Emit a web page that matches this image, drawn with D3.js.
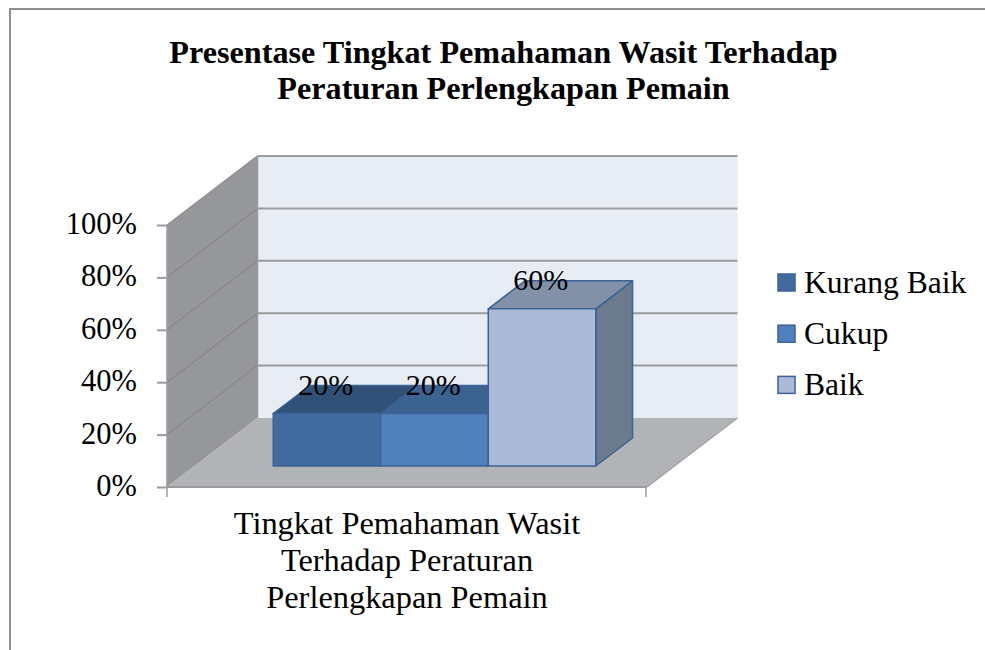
<!DOCTYPE html>
<html><head><meta charset="utf-8">
<script src="https://cdn.jsdelivr.net/npm/d3@7/dist/d3.min.js"></script>
<style>html,body{margin:0;padding:0;background:#fff}svg{display:block}text{font-family:"Liberation Serif",serif;fill:#000}</style>
</head><body><svg id="c" width="985" height="650"></svg>
<script>
const titleLines = ["Presentase Tingkat Pemahaman Wasit Terhadap", "Peraturan Perlengkapan Pemain"];
const categoryLines = ["Tingkat Pemahaman Wasit", "Terhadap Peraturan", "Perlengkapan Pemain"];
const seriesNames = ["Kurang Baik", "Cukup", "Baik"];
const seriesValues = [20, 20, 60];
const yTicks = [0, 20, 40, 60, 80, 100];

const faceColors = ["#416b9f", "#4f81bd", "#aabad7"];
const topColors = ["#325179", "#3c6290", "#8290a8"];
const sideColors = ["#2f4d72", "#395d8a", "#6c7a8d"];
const edge = "#3b6397", grid = "#9b9b9d";

const svg = d3.select("#c");
svg.append("path").attr("d", "M10 650V9H985").attr("fill", "none").attr("stroke", "#8f8f8f").attr("stroke-width", 2);

const x = d3.scaleLinear().domain([0, 1]).range([167, 647]);
const y = d3.scaleLinear().domain([0, 100]).range([487, 225]);
const depthX = d3.scaleLinear().domain([0, 1]).range([0, 90.5]);
const depthY = d3.scaleLinear().domain([0, 1]).range([0, -69]);
const band = d3.scaleBand().domain(seriesNames).range([167, 647]).paddingInner(0).paddingOuter(0.732);
const pt = (px, v, z) => [px + depthX(z), y(v) + depthY(z)];
const poly = pts => "M" + pts.map(p => p.join(",")).join("L") + "Z";
const L = x(0), R = x(1);

// walls and floor
svg.append("path").attr("d", poly([pt(L,0,0), pt(L,100,0), pt(L,100,1), pt(L,0,1)])).attr("fill", "#96979a");
svg.append("path").attr("d", poly([pt(L,0,1), pt(L,100,1), pt(R,100,1), pt(R,0,1)])).attr("fill", "#e8ecf5");
const gl = svg.append("g");
yTicks.filter(t => t > 0).forEach(t => {
  gl.append("path").attr("d", "M" + pt(L,t,0) + "L" + pt(L,t,1)).attr("stroke", t === 100 ? "#8f9092" : "#86878a").attr("stroke-width", 1.3).attr("fill", "none");
  gl.append("path").attr("d", "M" + pt(L,t,1) + "L" + pt(R,t,1)).attr("stroke", grid).attr("stroke-width", 2).attr("fill", "none");
});
svg.append("path").attr("d", "M" + pt(L,0,1) + "L" + pt(L,100,1)).attr("stroke", grid).attr("stroke-width", 1.5);
svg.append("path").attr("d", poly([pt(L,0,0), pt(R,0,0), pt(R,0,1), pt(L,0,1)])).attr("fill", "#b1b3b6");
svg.append("path").attr("d", "M" + pt(R,0,0) + "L" + pt(R,0,1)).attr("stroke", "#a4a5a8").attr("stroke-width", 1.5).attr("fill", "none");
svg.append("path").attr("d", "M" + L + " " + y(0) + "H" + R).attr("stroke", grid).attr("stroke-width", 2);
svg.append("path").attr("d", "M" + pt(L,0,0) + "L" + pt(L,100,0)).attr("stroke", grid).attr("stroke-width", 1.5);

// axes
const yAxis = svg.append("g").attr("transform", "translate(" + L + ",0)")
  .call(d3.axisLeft(y).tickValues(yTicks).tickFormat(d => d + "%").tickSize(10).tickPadding(20));
yAxis.select(".domain").remove();
yAxis.selectAll("line").attr("stroke", grid).attr("stroke-width", 2);
yAxis.selectAll("text").attr("font-size", 30.5).attr("dy", "0.28em").style("font-family", '"Liberation Serif",serif');
[L, R - 1].forEach(px => svg.append("path").attr("d", "M" + px + " " + y(0) + "v10").attr("stroke", grid).attr("stroke-width", 1.5));

// bars
const z0 = 0.304, z1 = 0.71;
seriesNames.forEach((s, i) => {
  const a = band(s), b = a + band.bandwidth(), v = seriesValues[i];
  const g = svg.append("g").attr("stroke", edge).attr("stroke-width", 1.5).attr("stroke-linejoin", "round");
  g.append("path").attr("d", poly([pt(b,0,z0), pt(b,v,z0), pt(b,v,z1), pt(b,0,z1)])).attr("fill", sideColors[i]);
  g.append("path").attr("d", poly([pt(a,v,z0), pt(b,v,z0), pt(b,v,z1), pt(a,v,z1)])).attr("fill", topColors[i]);
  g.append("path").attr("d", poly([pt(a,0,z0), pt(b,0,z0), pt(b,v,z0), pt(a,v,z0)])).attr("fill", faceColors[i]);
});
seriesNames.forEach((s, i) => {
  const c = pt(band(s) + band.bandwidth() / 2, seriesValues[i], z1);
  svg.append("text").attr("x", c[0] - 38).attr("y", c[1] + 9.5).attr("text-anchor", "middle").attr("font-size", 30).text(seriesValues[i] + "%");
});

// title
svg.selectAll(".t").data(titleLines).join("text").attr("class", "t")
  .attr("x", 503.5).attr("y", (d, i) => 63 + i * 36).attr("text-anchor", "middle")
  .attr("font-size", 32.2).attr("font-weight", "bold").text(d => d);

// category label
svg.selectAll(".c").data(categoryLines).join("text").attr("class", "c")
  .attr("x", 407).attr("y", (d, i) => 534 + i * 37).attr("text-anchor", "middle")
  .attr("font-size", 32.4).text(d => d);

// legend
const leg = svg.selectAll(".l").data(seriesNames).join("g").attr("class", "l")
  .attr("transform", (d, i) => "translate(0," + (i * 51.2) + ")");
leg.append("rect").attr("x", 778).attr("y", 274).attr("width", 17).attr("height", 17)
  .attr("fill", (d, i) => faceColors[i]).attr("stroke", edge).attr("stroke-width", 1.5);
leg.append("text").attr("x", 804).attr("y", 293).attr("font-size", 31.6).text(d => d);
</script></body></html>
